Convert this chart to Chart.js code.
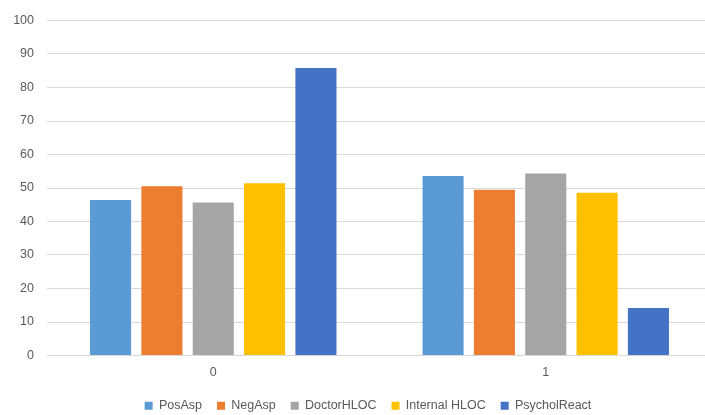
<!DOCTYPE html>
<html>
<head>
<meta charset="utf-8">
<script src="https://cdn.jsdelivr.net/npm/chart.js@4"></script>
<style>
  html, body { margin: 0; padding: 0; background: #fff; overflow: hidden; }
  #wrap { width: 705px; height: 415px; overflow: hidden; }
  canvas { display: block; }
</style>
</head>
<body>
<div id="wrap"><canvas id="c" width="737" height="422"></canvas></div>
<script>
// Categories and per-series values (percent)
const categories = ['0', '1'];
const posAsp = [46.4, 53.6];
const negAsp = [50.5, 49.5];
const doctorHLOC = [45.7, 54.3];
const internalHLOC = [51.4, 48.6];
const psycholReact = [85.8, 14.2];
const yTicks = [0, 10, 20, 30, 40, 50, 60, 70, 80, 90, 100];

const seriesNames = ['PosAsp', 'NegAsp', 'DoctorHLOC', 'Internal HLOC', 'PsycholReact'];
const seriesValues = [posAsp, negAsp, doctorHLOC, internalHLOC, psycholReact];
const seriesColors = ['#5B9BD5', '#ED7D31', '#A5A5A5', '#FFC000', '#4472C4'];

const textColor = '#595959';
const font = { family: "'Liberation Sans', Arial, sans-serif", size: 12.5 };

// Centre the legend under the whole chart width rather than the padded box
const legendShift = {
  id: 'legendShift',
  afterLayout(chart) {
    if (chart.legend) {
      chart.legend.left += 12;
      chart.legend.right += 12;
    }
  }
};

new Chart(document.getElementById('c'), {
  type: 'bar',
  data: {
    labels: categories,
    datasets: seriesNames.map((name, i) => ({
      label: name,
      data: seriesValues[i],
      backgroundColor: seriesColors[i],
      borderWidth: 0,
      categoryPercentage: 0.772,
      barPercentage: 0.8
    }))
  },
  plugins: [legendShift],
  options: {
    responsive: false,
    devicePixelRatio: 1,
    animation: false,
    layout: { padding: { top: 14, right: 25, left: 0, bottom: 0 } },
    plugins: {
      tooltip: { enabled: false },
      legend: {
        position: 'bottom',
        labels: {
          boxWidth: 8,
          boxHeight: 8,
          color: textColor,
          font: font,
          padding: 15
        }
      }
    },
    scales: {
      x: {
        grid: { display: false, drawTicks: false },
        border: { display: false },
        afterFit: (scale) => { scale.height = 29; },
        ticks: { color: textColor, font: font, padding: 10 }
      },
      y: {
        min: 0,
        max: 100,
        afterBuildTicks: (scale) => { scale.ticks = yTicks.map(v => ({ value: v })); },
        afterFit: (scale) => { scale.width = 47; },
        grid: { color: '#D9D9D9', lineWidth: 1, drawTicks: false },
        border: { display: false },
        ticks: { color: textColor, font: font, padding: 13 }
      }
    }
  }
});
</script>
</body>
</html>
